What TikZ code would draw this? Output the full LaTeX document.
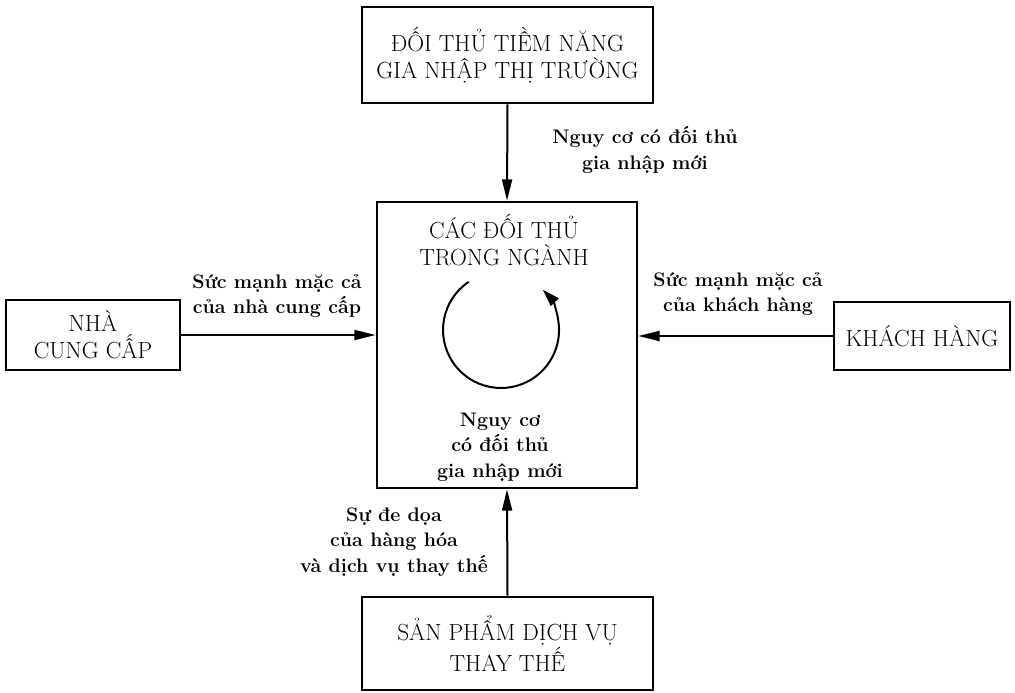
\documentclass[tikz,border=0pt]{standalone}
\usepackage{fontspec}
\usetikzlibrary{arrows.meta}
\tikzset{
  box/.style={draw, line width=2pt, inner sep=0pt, align=center,
    font=\fontsize{17.5}{20.5}\selectfont},
  reg/.style={align=center, inner sep=0pt, font=\fontsize{17.5}{20.5}\selectfont},
  lbl/.style={align=center, inner sep=0pt, font=\fontsize{14.7}{19}\selectfont\bfseries},
  conn/.style={line width=1.5pt, -{Triangle[length=16pt,width=7.5pt]}},
}
\begin{document}
\begin{tikzpicture}[x=0.75pt,y=-0.75pt]
\useasboundingbox (0,0) rectangle (1015,693);
% boxes
\node[box, minimum width=218.25pt, minimum height=72pt] (top) at (507.5,55)
  {ĐỐI THỦ TIỀM NĂNG\\GIA NHẬP THỊ TRƯỜNG};
\node[box, minimum width=195pt, minimum height=214.5pt] (mid) at (507,345) {};
\node[box, minimum width=130.5pt, minimum height=52.5pt] (sup) at (93,335)
  {NHÀ\\CUNG CẤP};
\node[box, minimum width=132pt, minimum height=51pt] (cus) at (922,336)
  {KHÁCH HÀNG};
\node[box, minimum width=218.25pt, minimum height=69.75pt] (sub) at (507.5,643.5)
  {SẢN PHẨM DỊCH VỤ\\THAY THẾ};
% texts inside the centre box
\node[reg] (midtitle) at (504,240) {CÁC ĐỐI THỦ\\TRONG NGÀNH};
\node[lbl] (midrisk) at (500,447) {Nguy cơ\\có đối thủ\\gia nhập mới};
% rotation arc
\coordinate (arcstart) at (468.6,281.9);
\draw[line width=1.5pt, -{Triangle[length=13pt,width=8pt]}]
  (arcstart) arc[start angle=-124, end angle=-404, radius=58];
% connectors
\draw[conn] (top.south) -- (mid.north);
\draw[conn] (sub.north) -- (mid.south);
\draw[conn] (sup.east) -- (sup.east -| mid.west);
\draw[conn] (cus.west) -- (cus.west -| mid.east);
% connector labels
\node[lbl] (ltop) at (645,150) {Nguy cơ có đối thủ\\gia nhập mới};
\node[lbl] (lsup) at (277,296) {Sức mạnh mặc cả\\của nhà cung cấp};
\node[lbl] (lcus) at (738,294) {Sức mạnh mặc cả\\của khách hàng};
\node[lbl] (lsub) at (394,542) {Sự đe dọa\\của hàng hóa\\và dịch vụ thay thế};
\end{tikzpicture}
\end{document}
